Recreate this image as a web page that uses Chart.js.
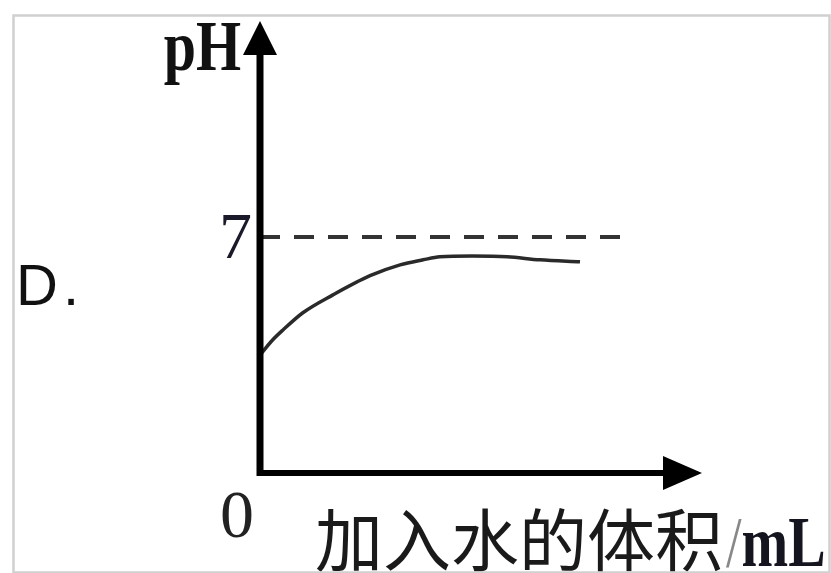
<!DOCTYPE html>
<html>
<head>
<meta charset="utf-8">
<script src="https://cdn.jsdelivr.net/npm/chart.js@4/dist/chart.umd.min.js"></script>
<style>
html,body{margin:0;padding:0;background:#fff;}
#wrap{width:831px;height:573px;position:relative;}
</style>
</head>
<body>
<div id="wrap"><canvas id="c" width="831" height="573"></canvas></div>
<script>
// Data (x: volume of water added, arbitrary mL units; y: pH)
const waterVolume = [0, 2.9, 5.2, 9.7, 16.5, 24.9, 31.7, 36.9, 40.7, 48, 55.9, 63.3, 72.4];
const phValues    = [3.5, 3.95, 4.24, 4.75, 5.28, 5.85, 6.17, 6.32, 6.41, 6.43, 6.41, 6.32, 6.26];
const neutralX    = [0, 82];
const neutralPH   = [7, 7];
const yTickLabel  = '7';
const originLabel = '0';
const yAxisTitle  = 'pH';
const xAxisTitleCn = '加入水的体积';
const xAxisUnit   = '/mL';
const optionLabel = 'D.';

const curve = waterVolume.map((x, i) => ({x, y: phValues[i]}));
const neutral = neutralX.map((x, i) => ({x, y: neutralPH[i]}));

const drawPlugin = {
  id: 'drawAxes',
  beforeDraw(chart) {
    const ctx = chart.ctx;
    ctx.save();
    ctx.fillStyle = '#fff';
    ctx.fillRect(0, 0, chart.width, chart.height);
    ctx.restore();
  },
  afterDraw(chart) {
    const ctx = chart.ctx;
    const xs = chart.scales.x, ys = chart.scales.y;
    const x0 = xs.getPixelForValue(0), y0 = ys.getPixelForValue(0);
    const xEnd = xs.getPixelForValue(xs.max), yEnd = ys.getPixelForValue(ys.max);
    ctx.save();
    // axes
    ctx.strokeStyle = '#000';
    ctx.fillStyle = '#000';
    ctx.lineWidth = 7;
    ctx.beginPath();
    ctx.moveTo(x0, y0 + 3);
    ctx.lineTo(x0, yEnd + 30);
    ctx.stroke();
    ctx.lineWidth = 6;
    ctx.beginPath();
    ctx.moveTo(x0 - 3, y0);
    ctx.lineTo(xEnd - 30, y0);
    ctx.stroke();
    // arrowheads
    ctx.beginPath();
    ctx.moveTo(x0, yEnd);
    ctx.lineTo(x0 - 17, yEnd + 34);
    ctx.lineTo(x0 + 17, yEnd + 34);
    ctx.closePath();
    ctx.fill();
    ctx.beginPath();
    ctx.moveTo(xEnd, y0);
    ctx.lineTo(xEnd - 39, y0 - 17);
    ctx.lineTo(xEnd - 39, y0 + 17);
    ctx.closePath();
    ctx.fill();

    // tick label 7
    ctx.fillStyle = '#1a1a2a';
    ctx.font = '66px "Liberation Serif"';
    ctx.textAlign = 'right';
    ctx.textBaseline = 'alphabetic';
    ctx.fillText(yTickLabel, x0 - 8, ys.getPixelForValue(7) + 21);
    // origin 0
    ctx.font = '68px "Liberation Serif"';
    ctx.fillStyle = '#222';
    ctx.fillText(originLabel, x0 - 6, y0 + 64);

    // pH title (stretched vertically)
    ctx.save();
    ctx.translate(x0 - 19, yEnd + 49);
    ctx.scale(1, 1.25);
    ctx.font = 'bold 58px "Liberation Serif"';
    ctx.fillStyle = '#111';
    ctx.textAlign = 'right';
    ctx.fillText(yAxisTitle, 0, 0);
    ctx.restore();

    // x title
    ctx.textAlign = 'left';
    ctx.font = '68px "Noto Sans CJK SC"';
    ctx.fillStyle = '#1a1a1a';
    const cnX = x0 + 55;
    ctx.fillText(xAxisTitleCn, cnX, 566);
    const cnW = ctx.measureText(xAxisTitleCn).width;
    ctx.save();
    ctx.translate(cnX + cnW + 3, 566);
    ctx.scale(1, 1.3);
    ctx.font = '56px "Liberation Serif"';
    ctx.fillStyle = '#888';
    ctx.fillText('/', 0, 0);
    const sw = ctx.measureText('/').width;
    ctx.font = 'bold 56px "Liberation Serif"';
    ctx.fillStyle = '#151520';
    ctx.fillText(xAxisUnit.slice(1), sw, 0);
    ctx.restore();

    // option label ("D" and "." with a small gap as in the picture)
    ctx.font = '58px "Liberation Sans"';
    ctx.fillStyle = '#111';
    ctx.fillText(optionLabel.charAt(0), 16, 305);
    const dW = ctx.measureText(optionLabel.charAt(0)).width;
    ctx.fillText(optionLabel.slice(1), 16 + dW + 5, 305);

    // frame
    ctx.strokeStyle = '#d0d0d0';
    ctx.lineWidth = 2.5;
    ctx.strokeRect(13.5, 15.5, 816, 557);
    ctx.restore();
  }
};

new Chart(document.getElementById('c'), {
  type: 'scatter',
  data: {
    datasets: [
      {
        data: neutral,
        showLine: true,
        borderColor: '#333',
        borderWidth: 4,
        borderDash: [20, 14],
        pointRadius: 0,
        fill: false
      },
      {
        data: curve,
        showLine: true,
        borderColor: '#2a2a2a',
        borderWidth: 3.5,
        cubicInterpolationMode: 'monotone',
        pointRadius: 0,
        fill: false
      }
    ]
  },
  options: {
    responsive: false,
    animation: false,
    devicePixelRatio: 1,
    layout: {padding: {left: 260, right: 129, top: 21, bottom: 100}},
    plugins: {legend: {display: false}, tooltip: {enabled: false}},
    scales: {
      x: {type: 'linear', min: 0, max: 100, display: false},
      y: {type: 'linear', min: 0, max: 13.4, display: false}
    }
  },
  plugins: [drawPlugin]
});
</script>
</body>
</html>
